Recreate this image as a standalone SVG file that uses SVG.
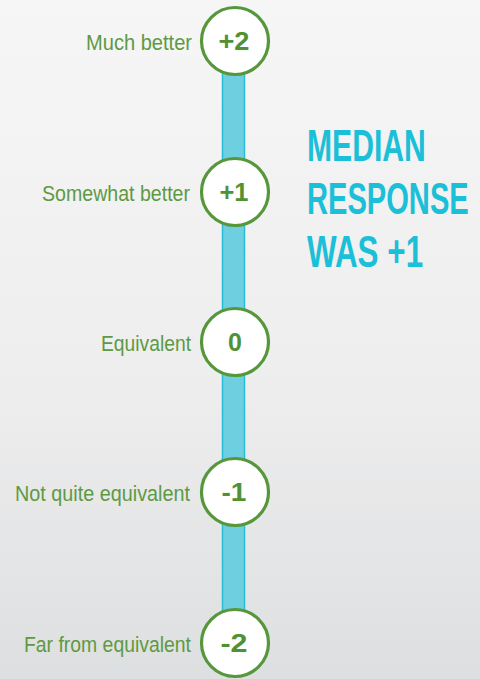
<svg xmlns="http://www.w3.org/2000/svg" width="480" height="679" viewBox="0 0 480 679">
<defs>
<linearGradient id="bg" x1="0" y1="0" x2="0" y2="1">
<stop offset="0" stop-color="#f6f6f6"/>
<stop offset="0.55" stop-color="#eeeeef"/>
<stop offset="1" stop-color="#dedfe0"/>
</linearGradient>
<style>
.lbl{font-family:"Liberation Sans",Arial,sans-serif;font-size:22px;fill:#5d9a43;text-anchor:end}
.num{font-family:"Liberation Sans",Arial,sans-serif;font-size:25px;font-weight:bold;fill:#4f9233;text-anchor:middle}
.dot{fill:#ffffff;stroke:#55973a;stroke-width:3.2}
.big{font-family:"Liberation Sans",Arial,sans-serif;font-size:45px;font-weight:bold;fill:#1cbfd8}
</style>
</defs>
<rect width="480" height="679" fill="url(#bg)"/>
<g id="connectors">
<rect x="222.5" y="60" width="22" height="570" fill="#6dcfe0" stroke="#27bdd6" stroke-width="1.5"/>
</g>
<g id="n_p2">
<circle class="dot" cx="235" cy="41" r="33.5"/>
<text class="num" x="234" y="50" textLength="31" lengthAdjust="spacingAndGlyphs">+2</text>
<text class="lbl" x="192" y="49.5" textLength="106" lengthAdjust="spacingAndGlyphs">Much better</text>
</g>
<g id="n_p1">
<circle class="dot" cx="235" cy="192" r="33.5"/>
<text class="num" x="234" y="201" textLength="29" lengthAdjust="spacingAndGlyphs">+1</text>
<text class="lbl" x="190" y="200.5" textLength="148" lengthAdjust="spacingAndGlyphs">Somewhat better</text>
</g>
<g id="n_0">
<circle class="dot" cx="235" cy="342" r="33.5"/>
<text class="num" x="235" y="351">0</text>
<text class="lbl" x="191" y="350.5" textLength="90" lengthAdjust="spacingAndGlyphs">Equivalent</text>
</g>
<g id="n_m1">
<circle class="dot" cx="235" cy="492" r="33.5"/>
<text class="num" x="234" y="501" textLength="25" lengthAdjust="spacingAndGlyphs">-1</text>
<text class="lbl" x="190" y="500.5" textLength="175" lengthAdjust="spacingAndGlyphs">Not quite equivalent</text>
</g>
<g id="n_m2">
<circle class="dot" cx="235" cy="643" r="33.5"/>
<text class="num" x="234" y="652" textLength="27" lengthAdjust="spacingAndGlyphs">-2</text>
<text class="lbl" x="191" y="651.5" textLength="167" lengthAdjust="spacingAndGlyphs">Far from equivalent</text>
</g>
<g id="headline">
<text class="big" transform="translate(307,161) scale(0.66,1)" x="0" y="0" textLength="180" lengthAdjust="spacingAndGlyphs">MEDIAN</text>
<text class="big" transform="translate(307,214) scale(0.66,1)" x="0" y="0" textLength="245" lengthAdjust="spacingAndGlyphs">RESPONSE</text>
<text class="big" transform="translate(307,267) scale(0.66,1)" x="0" y="0" textLength="176" lengthAdjust="spacingAndGlyphs">WAS +1</text>
</g>
</svg>
